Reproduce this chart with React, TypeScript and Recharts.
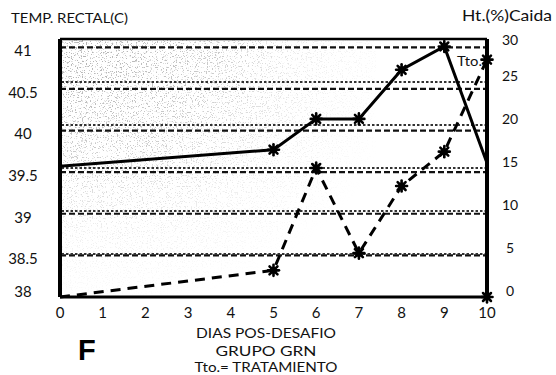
import React from "react";
import { LineChart, Line, XAxis, YAxis, ReferenceLine, ReferenceArea } from "recharts";

const days = [0, 5, 6, 7, 8, 9, 10];
const tempRectal = [39.57, 39.77, 40.14, 40.14, 40.73, 41.01, 39.61];
const caidaHt = [0, 3.1, 15.0, 5.1, 12.9, 16.9, 27.6];
const postDays = [10];
const postCaida = [0];

const xTicks = [0, 1, 2, 3, 4, 5, 6, 7, 8, 9, 10];
const leftTicks = [38, 38.5, 39, 39.5, 40, 40.5, 41];
const rightTicks = [0, 5, 10, 15, 20, 25, 30];
const leftGrid = [38.5, 39, 39.5, 40, 40.5, 41];
const rightGrid = [5, 10, 15, 20, 25];

const rows = days.map((d, i) => ({ day: d, temp: tempRectal[i], caida: caidaHt[i] }));
const postRows = postDays.map((d, i) => ({ day: d, value: postCaida[i] }));

const FONT = "Lato, 'DejaVu Sans', sans-serif";

const Star = (props: any) => {
  const { cx, cy, index, skip } = props;
  if (cx == null || cy == null) return <g key={`s${index}`} />;
  if (skip && skip.includes(index)) return <g key={`s${index}`} />;
  const r = 5.5;
  const d = r * 0.72;
  return (
    <g key={`s${index}`} stroke="#000" strokeWidth={2.6} strokeLinecap="round">
      <line x1={cx - r} y1={cy} x2={cx + r} y2={cy} />
      <line x1={cx} y1={cy - r} x2={cx} y2={cy + r} />
      <line x1={cx - d} y1={cy - d} x2={cx + d} y2={cy + d} />
      <line x1={cx - d} y1={cy + d} x2={cx + d} y2={cy - d} />
      <circle cx={cx} cy={cy} r={2.2} fill="#000" />
    </g>
  );
};

const LeftTick = (props: any) => {
  const { y, payload } = props;
  const ty = Math.min(y + 5, 293);
  return (
    <text x={23} y={ty} textAnchor="middle" dominantBaseline="middle" fontSize={15} fill="#111" fontFamily={FONT}>
      {payload.value}
    </text>
  );
};

const RightTick = (props: any) => {
  const { y, payload } = props;
  const ty = Math.max(y - 5, 41);
  return (
    <text x={510} y={ty} textAnchor="middle" dominantBaseline="middle" fontSize={14} fill="#111" fontFamily={FONT}>
      {payload.value}
    </text>
  );
};

const Speckle = (props: any) => {
  const { x, y, width, height } = props;
  return (
    <g>
      <defs>
        <radialGradient id="speckGrad" cx="0.1" cy="0.05" r="1">
          <stop offset="0" stopColor="#000" stopOpacity={0.9} />
          <stop offset="0.4" stopColor="#000" stopOpacity={0.6} />
          <stop offset="0.7" stopColor="#000" stopOpacity={0.2} />
          <stop offset="1" stopColor="#000" stopOpacity={0} />
        </radialGradient>
        <filter id="speckle" x="0" y="0" width="100%" height="100%">
          <feTurbulence type="fractalNoise" baseFrequency="0.8" numOctaves="3" seed="11" result="n" />
          <feColorMatrix
            in="n"
            type="matrix"
            values="0 0 0 0 0.4  0 0 0 0 0.4  0 0 0 0 0.4  10 0 0 0 -5.9"
            result="dots"
          />
          <feComposite in="dots" in2="SourceAlpha" operator="in" />
        </filter>
      </defs>
      <rect x={x} y={y} width={width} height={height} fill="url(#speckGrad)" filter="url(#speckle)" />
    </g>
  );
};

export default function App() {
  return (
    <div style={{ position: "absolute", left: 0, top: 0, width: 556, height: 375, background: "#fff" }}>
      <LineChart width={556} height={375} data={rows} margin={{ top: 39, right: 0, bottom: 0, left: 0 }}>
        <XAxis
          dataKey="day"
          type="number"
          domain={[0, 10]}
          ticks={xTicks}
          height={78}
          tickLine={false}
          axisLine={{ stroke: "#000", strokeWidth: 3 }}
          tick={{ fontSize: 15, fill: "#111", fontFamily: FONT }}
          tickMargin={4}
          interval={0}
        />
        <YAxis
          yAxisId="left"
          domain={[38, 41.1]}
          ticks={leftTicks}
          width={60}
          tickLine={false}
          axisLine={{ stroke: "#000", strokeWidth: 4 }}
          tick={<LeftTick />}
          interval={0}
        />
        <YAxis
          yAxisId="right"
          orientation="right"
          domain={[0, 30]}
          ticks={rightTicks}
          width={69}
          tickLine={false}
          axisLine={{ stroke: "#000", strokeWidth: 4 }}
          tick={<RightTick />}
          interval={0}
        />
        <ReferenceArea yAxisId="left" x1={0} x2={7.4} y1={38} y2={41.1} shape={<Speckle />} ifOverflow="hidden" />
        {leftGrid.map((v) => (
          <ReferenceLine key={`lg${v}`} yAxisId="left" y={v} stroke="#111" strokeWidth={2.2} strokeDasharray="6 3" />
        ))}
        {rightGrid.map((v) => (
          <ReferenceLine key={`rg${v}`} yAxisId="right" y={v} stroke="#333" strokeWidth={1.8} strokeDasharray="2.5 2" />
        ))}
        <ReferenceLine yAxisId="right" y={30} stroke="#000" strokeWidth={2.5} />
        <Line
          yAxisId="left"
          dataKey="temp"
          stroke="#000"
          strokeWidth={3}
          dot={<Star skip={[0, 6]} />}
          activeDot={false}
          isAnimationActive={false}
        />
        <Line
          yAxisId="right"
          dataKey="caida"
          stroke="#000"
          strokeWidth={3}
          strokeDasharray="10 7"
          dot={<Star skip={[0]} />}
          activeDot={false}
          isAnimationActive={false}
        />
        <Line
          yAxisId="right"
          data={postRows}
          dataKey="value"
          stroke="none"
          dot={<Star />}
          activeDot={false}
          isAnimationActive={false}
        />
      </LineChart>
      <svg width={556} height={375} style={{ position: "absolute", left: 0, top: 0, pointerEvents: "none" }}>
        <g fontFamily={FONT} fill="#111">
          <text x={11} y={19.5} dominantBaseline="middle" fontSize={14} textLength={117} lengthAdjust="spacingAndGlyphs">
            TEMP. RECTAL(C)
          </text>
          <text x={462} y={17.5} dominantBaseline="middle" fontSize={15} textLength={90} lengthAdjust="spacingAndGlyphs">
            Ht.(%)Caida
          </text>
          <text x={457} y={62} dominantBaseline="middle" fontSize={14} textLength={25} lengthAdjust="spacingAndGlyphs">
            Tto.
          </text>
          <text x={266} y={334} textAnchor="middle" dominantBaseline="middle" fontSize={14} textLength={140} lengthAdjust="spacingAndGlyphs">
            DIAS POS-DESAFIO
          </text>
          <text x={266} y={352} textAnchor="middle" dominantBaseline="middle" fontSize={14} textLength={101} lengthAdjust="spacingAndGlyphs">
            GRUPO GRN
          </text>
          <text x={266} y={368} textAnchor="middle" dominantBaseline="middle" fontSize={14} textLength={143} lengthAdjust="spacingAndGlyphs">
            Tto.= TRATAMIENTO
          </text>
        </g>
        <text x={78} y={360} fontSize={29} fontWeight="bold" fontFamily="'Liberation Sans', Arial, sans-serif" fill="#000">
          F
        </text>
      </svg>
    </div>
  );
}
